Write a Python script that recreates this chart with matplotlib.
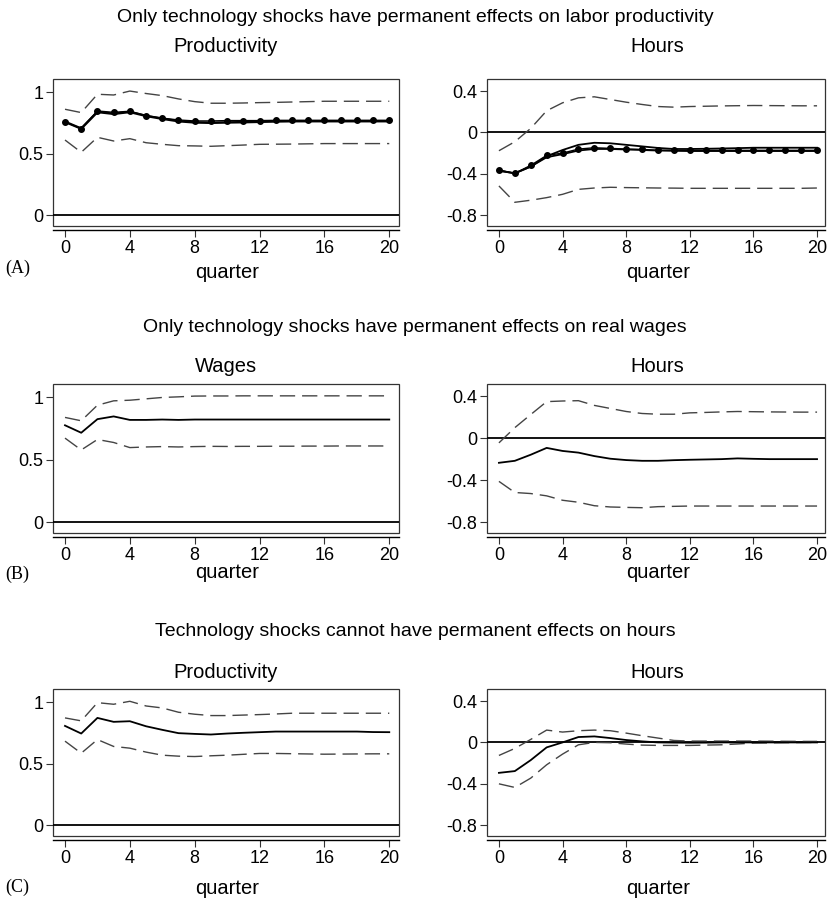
import matplotlib.pyplot as plt
from matplotlib.patches import Rectangle

plt.rcParams['font.family'] = ['Liberation Sans', 'DejaVu Sans']

quarters = list(range(21))

# (A) long-run restriction on labor productivity
prodA_dots = [0.76, 0.705, 0.848, 0.837, 0.846, 0.81, 0.79, 0.775, 0.767, 0.767, 0.77,
              0.77, 0.77, 0.772, 0.772, 0.772, 0.772, 0.772, 0.772, 0.772, 0.772]
prodA = [0.76, 0.705, 0.84, 0.825, 0.84, 0.808, 0.785, 0.765, 0.755, 0.752, 0.755,
         0.757, 0.76, 0.763, 0.765, 0.765, 0.765, 0.765, 0.765, 0.765, 0.765]
prodA_hi = [0.862, 0.835, 0.984, 0.978, 1.01, 0.99, 0.973, 0.946, 0.924, 0.911, 0.911,
            0.913, 0.916, 0.918, 0.921, 0.924, 0.927, 0.927, 0.927, 0.927, 0.927]
prodA_lo = [0.612, 0.512, 0.634, 0.604, 0.623, 0.59, 0.577, 0.566, 0.564, 0.561, 0.566,
            0.571, 0.577, 0.578, 0.579, 0.581, 0.583, 0.583, 0.583, 0.583, 0.583]

hrsA_dots = [-0.363, -0.395, -0.318, -0.222, -0.2, -0.161, -0.148, -0.154, -0.161, -0.164, -0.173,
             -0.173, -0.173, -0.173, -0.173, -0.173, -0.173, -0.173, -0.173, -0.173, -0.173]
hrsA_1 = [-0.37, -0.395, -0.33, -0.23, -0.17, -0.12, -0.10, -0.105, -0.12, -0.135, -0.15,
          -0.16, -0.16, -0.158, -0.155, -0.152, -0.148, -0.148, -0.148, -0.148, -0.148]
hrsA_2 = [-0.37, -0.395, -0.33, -0.24, -0.21, -0.175, -0.16, -0.16, -0.165, -0.17, -0.175,
          -0.178, -0.18, -0.18, -0.18, -0.18, -0.18, -0.18, -0.18, -0.18, -0.18]
hrsA_hi = [-0.177, -0.09, 0.039, 0.209, 0.286, 0.334, 0.344, 0.318, 0.292, 0.27, 0.25,
           0.244, 0.25, 0.253, 0.256, 0.258, 0.26, 0.259, 0.258, 0.257, 0.257]
hrsA_lo = [-0.517, -0.675, -0.655, -0.63, -0.598, -0.55, -0.537, -0.53, -0.533, -0.535, -0.537,
           -0.538, -0.54, -0.54, -0.54, -0.54, -0.54, -0.54, -0.54, -0.54, -0.537]

# (B) long-run restriction on real wages
wagB = [0.777, 0.717, 0.826, 0.848, 0.82, 0.82, 0.823, 0.82, 0.823, 0.823, 0.823,
        0.823, 0.823, 0.823, 0.823, 0.823, 0.823, 0.823, 0.823, 0.823, 0.823]
wagB_hi = [0.84, 0.813, 0.938, 0.973, 0.978, 0.989, 1.0, 1.005, 1.011, 1.012, 1.012,
           1.013, 1.013, 1.013, 1.013, 1.013, 1.013, 1.013, 1.013, 1.013, 1.013]
wagB_lo = [0.674, 0.579, 0.663, 0.639, 0.598, 0.603, 0.606, 0.603, 0.606, 0.608, 0.607,
           0.608, 0.608, 0.609, 0.609, 0.61, 0.61, 0.611, 0.611, 0.611, 0.611]

hrsB = [-0.235, -0.216, -0.158, -0.093, -0.122, -0.138, -0.171, -0.196, -0.209, -0.216, -0.216,
        -0.21, -0.206, -0.203, -0.2, -0.193, -0.197, -0.2, -0.2, -0.2, -0.2]
hrsB_hi = [-0.045, 0.1, 0.225, 0.348, 0.354, 0.357, 0.312, 0.283, 0.254, 0.235, 0.228,
           0.228, 0.241, 0.245, 0.25, 0.254, 0.252, 0.25, 0.249, 0.248, 0.248]
hrsB_lo = [-0.412, -0.518, -0.528, -0.55, -0.592, -0.611, -0.644, -0.656, -0.66, -0.663, -0.653,
           -0.65, -0.647, -0.647, -0.647, -0.647, -0.647, -0.647, -0.647, -0.647, -0.647]

# (C) long-run restriction on hours
prodC = [0.808, 0.746, 0.873, 0.841, 0.846, 0.805, 0.776, 0.749, 0.743, 0.738, 0.746,
         0.752, 0.757, 0.762, 0.762, 0.762, 0.762, 0.762, 0.762, 0.758, 0.757]
prodC_hi = [0.873, 0.849, 0.997, 0.984, 1.008, 0.97, 0.954, 0.919, 0.903, 0.892, 0.892,
            0.896, 0.9, 0.905, 0.911, 0.911, 0.911, 0.911, 0.911, 0.911, 0.911]
prodC_lo = [0.684, 0.586, 0.697, 0.641, 0.627, 0.595, 0.57, 0.562, 0.559, 0.565, 0.57,
            0.577, 0.584, 0.584, 0.582, 0.58, 0.578, 0.579, 0.58, 0.581, 0.581]

hrsC = [-0.294, -0.277, -0.171, -0.048, 0.0, 0.052, 0.058, 0.042, 0.023, 0.01, 0.0,
        -0.002, -0.003, -0.002, 0.0, 0.0, 0.0, 0.0, 0.0, 0.0, 0.0]
hrsC_hi = [-0.126, -0.058, 0.029, 0.119, 0.1, 0.113, 0.119, 0.113, 0.09, 0.065, 0.042,
           0.019, 0.013, 0.013, 0.013, 0.013, 0.013, 0.012, 0.011, 0.01, 0.01]
hrsC_lo = [-0.4, -0.435, -0.345, -0.216, -0.113, -0.023, 0.0, -0.003, -0.016, -0.026, -0.029,
           -0.029, -0.029, -0.026, -0.023, -0.015, -0.006, -0.004, -0.002, -0.001, 0.0]

W, H = 830, 900
fig = plt.figure(figsize=(W / 100, H / 100), dpi=100)

def px_axes(x0, x1, y0, y1):
    return fig.add_axes([x0 / W, 1 - y1 / H, (x1 - x0) / W, (y1 - y0) / H])

def setup(ax, xlim, ylim, yticks, ylabels):
    ax.set_xlim(*xlim)
    ax.set_ylim(*ylim)
    ax.set_xticks([0, 4, 8, 12, 16, 20])
    ax.set_yticks(yticks)
    ax.set_yticklabels(ylabels)
    for s in ['top', 'right', 'left']:
        ax.spines[s].set_visible(False)
    ax.spines['bottom'].set_position(('outward', 3))
    ax.spines['bottom'].set_linewidth(1.0)
    ax.add_patch(Rectangle((0, 0), 1, 1, transform=ax.transAxes, fill=False,
                           lw=0.9, ec='#333333', clip_on=False))
    ax.tick_params(direction='out', length=5, width=0.8, labelsize=13, pad=2, color='#333333')
    ax.axhline(0, color='black', lw=1.3)

dash = dict(color='#444444', lw=1.0, dashes=(11, 5))

rows = [
    (79, 226, 'Only technology shocks have permanent effects on labor productivity',
     18, 47, 272, 268, '(A)'),
    (384, 533, 'Only technology shocks have permanent effects on real wages',
     327, 366, 573, 574, '(B)'),
    (689, 836, 'Technology shocks cannot have permanent effects on hours',
     632, 673, 889, 887, '(C)'),
]
left_titles = ['Productivity', 'Wages', 'Productivity']
left_data = [(prodA, prodA_hi, prodA_lo), (wagB, wagB_hi, wagB_lo), (prodC, prodC_hi, prodC_lo)]
right_data = [(hrsA_2, hrsA_hi, hrsA_lo), (hrsB, hrsB_hi, hrsB_lo), (hrsC, hrsC_hi, hrsC_lo)]

for i, (top, bot, sup, ysup, ytit, yq, ylab, tag) in enumerate(rows):
    axl = px_axes(53, 399, top, bot)
    setup(axl, (-0.74, 20.6), (-0.087, 1.108), [0, 0.5, 1], ['0', '0.5', '1'])
    mid, hi, lo = left_data[i]
    axl.plot(quarters, hi, **dash)
    axl.plot(quarters, lo, **dash)
    axl.plot(quarters, mid, color='black', lw=1.8 if i == 0 else 1.3)
    if i == 0:
        axl.plot(quarters, prodA_dots, color='black', lw=1.0, marker='o', ms=4)

    axr = px_axes(487, 825, top, bot)
    setup(axr, (-0.75, 20.5), (-0.904, 0.516), [-0.8, -0.4, 0, 0.4],
          ['-0.8', '-0.4', '0', '0.4'])
    mid, hi, lo = right_data[i]
    axr.plot(quarters, hi, **dash)
    axr.plot(quarters, lo, **dash)
    axr.plot(quarters, mid, color='black', lw=1.3)
    if i == 0:
        axr.plot(quarters, hrsA_1, color='black', lw=1.3)
        axr.plot(quarters, hrsA_dots, color='black', lw=1.0, marker='o', ms=4)

    fig.text(415 / W, 1 - ysup / H, sup, ha='center', va='center', fontsize=14)
    fig.text(226 / W, 1 - ytit / H, left_titles[i], ha='center', va='center', fontsize=14.5)
    fig.text(657 / W, 1 - ytit / H, 'Hours', ha='center', va='center', fontsize=14.5)
    fig.text(227 / W, 1 - yq / H, 'quarter', ha='center', va='center', fontsize=14.5)
    fig.text(658 / W, 1 - yq / H, 'quarter', ha='center', va='center', fontsize=14.5)
    fig.text(5 / W, 1 - ylab / H, tag, ha='left', va='center', fontsize=13,
             family=['Liberation Serif', 'DejaVu Serif'])

fig.savefig('out.png', dpi=100)
